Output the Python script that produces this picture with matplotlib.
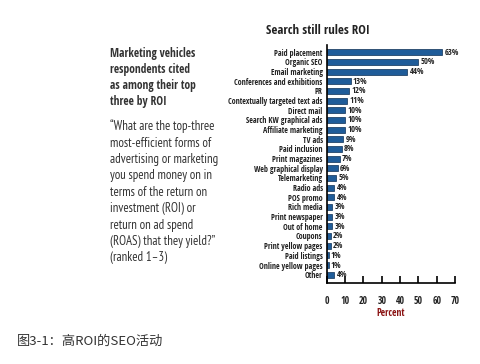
import matplotlib
matplotlib.use("Agg")
import matplotlib.pyplot as plt

# Marketing vehicles cited as top-three by ROI
vehicles = [
    "Paid placement", "Organic SEO", "Email marketing",
    "Conferences and exhibitions", "PR", "Contextually targeted text ads",
    "Direct mail", "Search KW graphical ads", "Affiliate marketing",
    "TV ads", "Paid inclusion", "Print magazines", "Web graphical display",
    "Telemarketing", "Radio ads", "POS promo", "Rich media",
    "Print newspaper", "Out of home", "Coupons", "Print yellow pages",
    "Paid listings", "Online yellow pages", "Other",
]
percent = [63, 50, 44, 13, 12, 11, 10, 10, 10, 9, 8, 7, 6,
           5, 4, 4, 3, 3, 3, 2, 2, 1, 1, 4]
xticks = [0, 10, 20, 30, 40, 50, 60, 70]

bold_font = ["Open Sans Condensed", "DejaVu Sans"]
text_font = ["PT Sans Narrow", "DejaVu Sans"]
plt.rcParams["font.family"] = bold_font
plt.rcParams["font.stretch"] = "condensed"
plt.rcParams["font.weight"] = "bold"

fig = plt.figure(figsize=(4.8, 3.64), dpi=100)
ax = fig.add_axes([0.681, 0.2225, 0.267, 0.654])

ypos = range(len(vehicles))
ax.barh(ypos, percent, height=0.62, color="#1f5c99", edgecolor="#0d2f55",
        linewidth=0.5)
for y, v in zip(ypos, percent):
    ax.text(v + 1.2, y, f"{v}%", va="center", ha="left", fontsize=6.2,
            color="#222222")

ax.set_ylim(len(vehicles) - 0.14, -0.75)
ax.set_xlim(0, 70)
ax.set_yticks(list(ypos))
ax.set_yticklabels(vehicles, fontsize=5.8, color="#222222")
ax.tick_params(axis="y", length=0, pad=3)
ax.set_xticks(xticks)
ax.set_xticklabels([str(t) for t in xticks], fontsize=7, color="#222222")
ax.tick_params(axis="x", direction="in", length=5, width=1.2, pad=9)
for s in ["top", "right"]:
    ax.spines[s].set_visible(False)
ax.spines["left"].set_linewidth(1.2)
ax.spines["bottom"].set_linewidth(1.2)
ax.set_xlabel("Percent", fontsize=7, color="#8a1212", labelpad=1)

fig.text(0.663, 0.915, "Search still rules ROI", ha="center", va="center",
         fontsize=9.3, color="#222222")

fig.text(0.23, 0.87,
         "Marketing vehicles\nrespondents cited\nas among their top\nthree by ROI",
         ha="left", va="top", fontsize=8.3, color="#333333",
         linespacing=1.3)
fig.text(0.23, 0.672,
         "\u201cWhat are the top-three\nmost-efficient forms of\n"
         "advertising or marketing\nyou spend money on in\n"
         "terms of the return on\ninvestment (ROI) or\n"
         "return on ad spend\n(ROAS) that they yield?\u201d\n(ranked 1\u20133)",
         ha="left", va="top", fontsize=9.2, color="#333333",
         family=text_font, fontweight="normal", linespacing=1.34)

fig.text(0.035, 0.063, "图3-1：高ROI的SEO活动", ha="left", va="center",
         fontsize=9.5, color="#333333", fontstretch="normal",
         fontweight="normal", family=["Noto Sans CJK SC", "DejaVu Sans"])

fig.savefig("out.png", dpi=100)
